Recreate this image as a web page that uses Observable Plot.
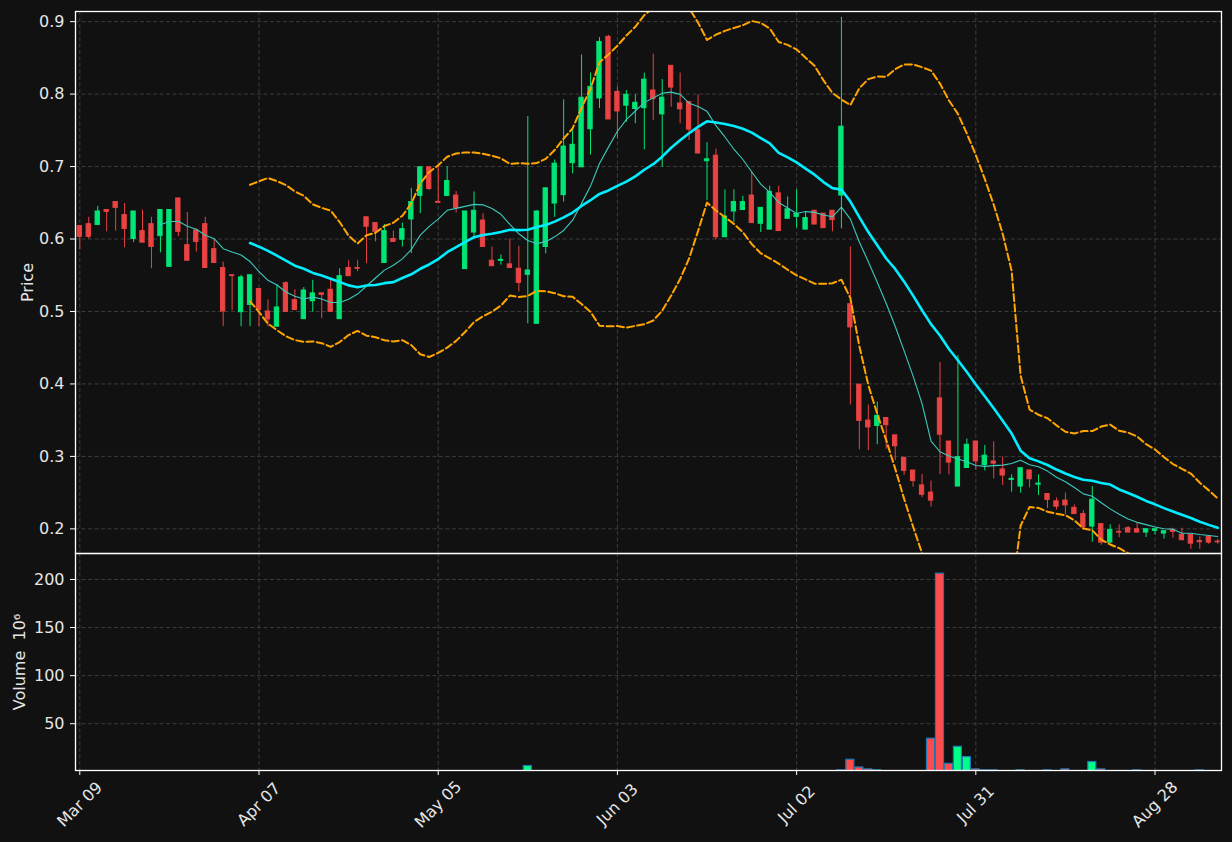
<!DOCTYPE html>
<html><head><meta charset="utf-8">
<script src="https://cdn.jsdelivr.net/npm/d3@7"></script>
<script src="https://cdn.jsdelivr.net/npm/@observablehq/plot@0.6"></script>
<style>
html,body{margin:0;padding:0;background:#111111;}
#chart{position:relative;width:1232px;height:842px;background:#111111;overflow:hidden;font-family:"DejaVu Sans";}
#chart svg{position:absolute;left:0;}
#chart svg text{font-family:"DejaVu Sans" !important;font-size:16px !important;}
</style></head><body><div id="chart"></div>
<script>
// ---- data (index = trading-day number, labels below) ----
const opens = [0.618,0.6205,0.6195,0.640,0.651,0.633,0.600,0.611,0.6205,0.604,
0.5616,0.656,0.5915,0.612,0.6205,0.586,0.560,0.550,0.499,0.509,
0.531,0.500,0.479,0.539,0.5156,0.4894,0.514,0.525,0.530,0.4894,
0.560,0.560,0.630,0.622,0.567,0.600,0.599,0.627,0.6595,0.699,
0.6513,0.6595,0.660,0.5585,0.609,0.6255,0.570,0.570,0.565,0.559,
0.5506,0.483,0.589,0.649,0.6605,0.7046,0.699,0.7515,0.794,0.879,
0.803,0.784,0.7795,0.7805,0.805,0.772,0.839,0.787,0.789,0.750,
0.7074,0.715,0.6025,0.638,0.640,0.660,0.621,0.613,0.663,0.628,
0.6306,0.613,0.639,0.635,0.639,0.660,0.510,0.399,0.3495,0.342,
0.353,0.329,0.298,0.2805,0.260,0.250,0.380,0.3205,0.2584,0.284,
0.3205,0.288,0.293,0.282,0.2676,0.2584,0.2806,0.261,0.248,0.238,
0.239,0.229,0.2204,0.2032,0.2065,0.181,0.1958,0.2009,0.1995,0.1949,
0.1972,0.1935,0.1986,0.1917,0.1917,0.1833,0.1889,0.1824];
const highs = [0.618,0.630,0.645,0.640,0.651,0.649,0.638,0.640,0.630,0.640,
0.640,0.656,0.6366,0.614,0.630,0.599,0.568,0.550,0.550,0.550,
0.531,0.516,0.537,0.541,0.530,0.533,0.543,0.525,0.5455,0.559,
0.570,0.570,0.630,0.622,0.620,0.611,0.622,0.670,0.699,0.699,
0.700,0.700,0.6655,0.638,0.665,0.635,0.589,0.578,0.600,0.590,
0.769,0.639,0.670,0.709,0.792,0.7506,0.854,0.829,0.878,0.881,
0.810,0.805,0.799,0.829,0.855,0.820,0.839,0.829,0.789,0.799,
0.733,0.724,0.668,0.668,0.659,0.692,0.643,0.673,0.673,0.658,
0.668,0.638,0.639,0.635,0.639,0.906,0.589,0.399,0.371,0.375,
0.353,0.329,0.298,0.2805,0.275,0.266,0.4295,0.3205,0.439,0.324,
0.3205,0.315,0.320,0.299,0.2745,0.2837,0.2806,0.2745,0.248,0.2426,
0.2495,0.233,0.225,0.2583,0.2065,0.2056,0.2056,0.2032,0.2088,0.1995,
0.1995,0.1968,0.2009,0.2009,0.1917,0.1889,0.1889,0.1857];
const lows = [0.585,0.600,0.6195,0.610,0.611,0.588,0.595,0.595,0.559,0.581,
0.5616,0.603,0.570,0.582,0.560,0.567,0.479,0.501,0.479,0.479,
0.479,0.479,0.479,0.4995,0.501,0.4894,0.499,0.490,0.4995,0.4894,
0.5487,0.555,0.566,0.596,0.567,0.596,0.589,0.580,0.635,0.667,
0.650,0.6595,0.636,0.5585,0.600,0.589,0.5625,0.564,0.560,0.527,
0.483,0.483,0.5795,0.630,0.651,0.690,0.699,0.716,0.780,0.765,
0.738,0.761,0.759,0.723,0.7635,0.699,0.782,0.759,0.736,0.718,
0.653,0.599,0.6025,0.623,0.640,0.622,0.609,0.613,0.611,0.628,
0.615,0.613,0.620,0.615,0.610,0.614,0.371,0.309,0.308,0.316,
0.310,0.294,0.274,0.2575,0.243,0.230,0.275,0.2745,0.2584,0.284,
0.281,0.280,0.269,0.260,0.2506,0.2492,0.2565,0.246,0.228,0.226,
0.2194,0.2204,0.2019,0.1815,0.1773,0.181,0.188,0.1949,0.1949,0.188,
0.1917,0.1857,0.187,0.1843,0.1718,0.1718,0.1787,0.1787];
const closes = [0.603,0.603,0.638,0.6375,0.643,0.614,0.638,0.595,0.589,0.640,
0.640,0.610,0.570,0.596,0.560,0.567,0.500,0.549,0.547,0.550,
0.502,0.489,0.5055,0.4995,0.502,0.529,0.525,0.523,0.4995,0.5487,
0.5487,0.559,0.617,0.610,0.611,0.596,0.6136,0.651,0.699,0.669,
0.650,0.680,0.643,0.638,0.639,0.589,0.5625,0.5713,0.560,0.5395,
0.5566,0.638,0.670,0.704,0.7276,0.730,0.795,0.810,0.872,0.765,
0.776,0.799,0.788,0.820,0.793,0.795,0.809,0.779,0.751,0.718,
0.710,0.6025,0.631,0.651,0.651,0.622,0.643,0.665,0.611,0.641,
0.6347,0.629,0.620,0.615,0.626,0.755,0.478,0.349,0.340,0.356,
0.343,0.314,0.280,0.266,0.247,0.239,0.330,0.2915,0.299,0.316,
0.293,0.301,0.290,0.2736,0.269,0.2837,0.2685,0.2625,0.240,0.2306,
0.2324,0.2204,0.2019,0.2403,0.181,0.1986,0.1949,0.1949,0.1949,0.1995,
0.1995,0.1968,0.1958,0.1843,0.1796,0.1815,0.181,0.1815];
// volume in millions (0 = no trading volume recorded)
const volumes = [0,0,0,0,0,0,0,0,0,0, 0,0,0,0,0,0,0,0,0,0,
0,0,0,0,0,0,0,0,0,0, 0,0,0,0,0,0,0,0,0,0,
0,0,0,0,0,0,0,0,0,0, 6,0,0,0,0,0,0,0,0,0,
0,0,0,0,0,0,0,0,0,0, 0,0,0,0,0,0,0,0,0,0,
0,0,0,0,0,1.5,12.5,4.5,2.5,1.5, 0,0,0,0,0,34.4,206,8.3,26,15.3,
2.5,1.5,1.5,0,0,1.5,0,0,1.5,0, 2.5,0,0,10.2,2.5,0,0,0,1.5,0,
0,0,0,0,0,1.5,0,0];
const xTickIndex = [0,20,40,60,80,100,120];
const xTickLabels = ["Mar 09","Apr 07","May 05","Jun 03","Jul 02","Jul 31","Aug 28"];
const priceTicks = [0.2,0.3,0.4,0.5,0.6,0.7,0.8,0.9];
const volumeTicks = [50,100,150,200];

// ---- styling ----
const UP = "#00e676", DOWN = "#ea4343";
const VUP = "#00ff88", VDOWN = "#ff4b4b";
const GRID = "#3d3d3d", TEXT = "#e6e6e6";
const FONT = "DejaVu Sans";
const FS = 16;
const XDOM = [-0.48, 127.42];

const n = closes.length;
const candles = d3.range(n).map(i => ({
  i, open: opens[i], high: highs[i], low: lows[i], close: closes[i],
  volume: volumes[i], up: closes[i] >= opens[i]
}));
function rolling(k, f) {
  return d3.range(k - 1, n).map(i => ({i, v: f(closes.slice(i - k + 1, i + 1))}));
}
const ma10 = rolling(10, d3.mean);
const ma20 = rolling(20, d3.mean);
const sd20 = rolling(20, d3.deviation);
const upper = ma20.map((d, j) => ({i: d.i, v: d.v + 2 * sd20[j].v}));
const lower = ma20.map((d, j) => ({i: d.i, v: d.v - 2 * sd20[j].v}));

const baseStyle = {background: "transparent", color: TEXT, fontFamily: FONT, fontSize: FS + "px", overflow: "visible"};
const txt = {fill: TEXT, fontSize: FS, fontFamily: FONT};

const price = Plot.plot({
  width: 1232, height: 553,
  marginTop: 11, marginBottom: 0, marginLeft: 75, marginRight: 11,
  style: baseStyle,
  color: {type: "identity"},
  x: {domain: XDOM, axis: null},
  y: {domain: [0.166, 0.914], axis: null},
  marks: [
    Plot.gridX(xTickIndex, {stroke: GRID, strokeOpacity: 1, strokeWidth: 1, strokeDasharray: "4,2.5"}),
    Plot.gridY(priceTicks, {stroke: GRID, strokeOpacity: 1, strokeWidth: 1, strokeDasharray: "4,2.5"}),
    Plot.ruleX(candles, {x: "i", y1: "low", y2: "high", stroke: d => d.up ? UP : DOWN, strokeWidth: 1, clip: true}),
    Plot.rect(candles, {x1: d => d.i - 0.24, x2: d => d.i + 0.24, y1: "open", y2: "close",
      fill: d => d.up ? UP : DOWN, stroke: d => d.up ? UP : DOWN, strokeWidth: 1, clip: true}),
    Plot.line(ma10, {x: "i", y: "v", stroke: "#3ccabe", strokeWidth: 1.1, clip: true}),
    Plot.line(ma20, {x: "i", y: "v", stroke: "#00eeff", strokeWidth: 2.6, clip: true}),
    Plot.line(upper, {x: "i", y: "v", stroke: "#ffa500", strokeWidth: 2, strokeDasharray: "7,3.3", clip: true}),
    Plot.line(lower, {x: "i", y: "v", stroke: "#ffa500", strokeWidth: 2, strokeDasharray: "7,3.3", clip: true}),
    Plot.axisY(priceTicks, {tickSize: 5, tickPadding: 6, stroke: "#ffffff", ...txt,
      tickFormat: d3.format(".1f"), label: null}),
    Plot.text(["Price"], {text: d => d, frameAnchor: "left", dx: -48, rotate: -90,
      textAnchor: "middle", lineAnchor: "middle", ...txt}),
    Plot.frame({stroke: "#ffffff", strokeWidth: 1.3})
  ]
});
price.style.top = "0px";

const volume = Plot.plot({
  width: 1232, height: 289,
  marginTop: 0, marginBottom: 72, marginLeft: 75, marginRight: 11,
  style: baseStyle,
  color: {type: "identity"},
  x: {domain: XDOM, axis: null},
  y: {domain: [1.35, 227], axis: null},
  marks: [
    Plot.gridX(xTickIndex, {stroke: GRID, strokeOpacity: 1, strokeWidth: 1, strokeDasharray: "4,2.5"}),
    Plot.gridY(volumeTicks, {stroke: GRID, strokeOpacity: 1, strokeWidth: 1, strokeDasharray: "4,2.5"}),
    Plot.rect(candles.filter(d => d.volume > 0), {x1: d => d.i - 0.45, x2: d => d.i + 0.45, y1: 0, y2: "volume",
      fill: d => d.up ? VUP : VDOWN, stroke: "#1f77b4", strokeWidth: 1.2, clip: true}),
    Plot.axisY(volumeTicks, {tickSize: 5, tickPadding: 6, stroke: "#ffffff", ...txt, label: null}),
    Plot.text(["Volume  10⁶"], {text: d => d, frameAnchor: "left", dx: -56, rotate: -90,
      textAnchor: "middle", lineAnchor: "middle", ...txt}),
    Plot.axisX(xTickIndex, {tickSize: 5, stroke: "#ffffff", tickFormat: () => "", label: null}),
    Plot.text(xTickIndex, {x: d => d, text: (d, j) => xTickLabels[j], frameAnchor: "bottom", dy: 34,
      rotate: -45, textAnchor: "middle", lineAnchor: "middle", ...txt}),
    Plot.frame({stroke: "#ffffff", strokeWidth: 1.3})
  ]
});
volume.style.top = "553px";

const chart = document.getElementById("chart");
chart.appendChild(volume);
chart.appendChild(price);
</script></body></html>
